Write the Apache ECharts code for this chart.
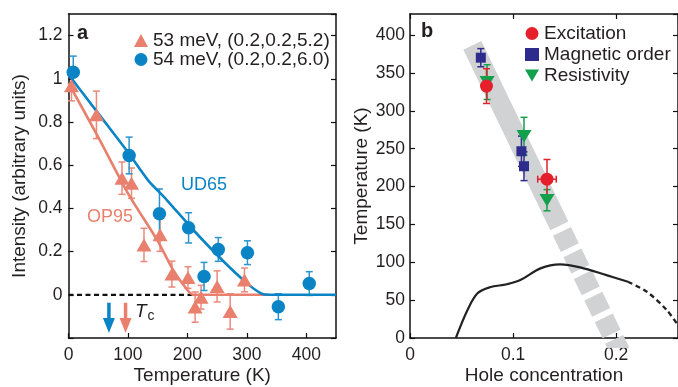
<!DOCTYPE html>
<html>
<head>
<meta charset="utf-8">
<script src="https://cdn.jsdelivr.net/npm/echarts@6/dist/echarts.min.js"></script>
<style>html,body{margin:0;padding:0;background:#fff}#c{width:678px;height:387px}</style>
</head>
<body>
<div id="c"></div>
<script>
// ---------- Panel a data ----------
const blueName = '54 meV, (0.2,0.2,6.0)';
const redName = '53 meV, (0.2,0.2,5.2)';
const blueT = [8, 102, 153, 202, 228, 252, 301, 353, 405];
const blueI = [1.03, 0.645, 0.375, 0.31, 0.085, 0.21, 0.195, -0.055, 0.052];
const blueErr = [0.075, 0.085, 0.115, 0.07, 0.065, 0.055, 0.055, 0.06, 0.055];
const redT = [5, 47, 90, 106, 127, 154, 174, 201, 213, 223, 250, 272, 296];
const redI = [0.968, 0.833, 0.54, 0.517, 0.231, 0.278, 0.096, 0.08, -0.057, -0.011, 0.039, -0.077, 0.069];
const redErr = [0.07, 0.11, 0.075, 0.07, 0.077, 0.077, 0.06, 0.05, 0.07, 0.055, 0.072, 0.082, 0.055];
const blueFitT = [0, 50, 100, 134, 165, 210, 261, 300, 323, 337, 450];
const blueFitI = [1.02, 0.84, 0.66, 0.53, 0.44, 0.30, 0.154, 0.054, 0.008, 0, 0];
const redFitT = [0, 50, 100, 150, 175, 195, 210, 337];
const redFitI = [0.98, 0.73, 0.47, 0.25, 0.12, 0.04, 0, 0];
const zeroLineT = [0, 210];
const tcArrowT = [68, 96];
const tcArrowTop = -0.037, tcArrowHead = -0.108, tcArrowTip = -0.176;
const xTicksA = [0, 450, 100];
const yTicksA = [-0.2, 1.3, 0.2];

// ---------- Panel b data ----------
const excP = [0.0742, 0.1329], excT = [332.8, 209.8], excErr = [23, 26], excPErr = [0, 0.009];
const magP = [0.0687, 0.1081, 0.1106], magT = [370.3, 246.7, 226.9], magErr = [12, 20, 19];
const resP = [0.0748, 0.1106, 0.1329], resT = [338, 266.5, 182], resErr = [23, 25, 14];
const domeP = [0.0445, 0.0558, 0.0655, 0.0774, 0.094, 0.107, 0.1266, 0.1456, 0.165, 0.1906, 0.2115];
const domeT = [0, 37, 59, 67, 71, 76.5, 92, 97.2, 93.3, 83, 74.3];
const domeDashP = [0.2115, 0.2298, 0.249, 0.262];
const domeDashT = [74.3, 61, 37, 13];
const bandSolidP = [0.0605, 0.1449], bandSolidT = [386.5, 148];
const bandDashP = [0.1449, 0.2046], bandDashT = [148, -20];
const xTicksB = [0, 0.26, 0.1];
const yTicksB = [0, 428, 50];

// ---------- style ----------
const FONT = '"Liberation Sans", Arial, Helvetica, sans-serif';
const TXT = '#231f20';
const BLUE = '#0b84c6', BLUE_E = '#2b95d0';
const SALMON = '#e9806e', SALMON_E = '#e98a7b';
const RED = '#e5202a', NAVY = '#2d2b8c', GREEN = '#12a04c';
const BAND = '#d1d2d4';
const TRI_DOWN = 'path://M0,0 L10,0 L5,8.5 Z';

const zip = (a, b) => a.map((v, i) => [v, b[i]]);

function errSeries(xi, yi, xs, ys, es, color, cap, exs) {
  return {
    type: 'custom', xAxisIndex: xi, yAxisIndex: yi, z: 2, silent: true,
    data: xs.map((x, i) => [x, ys[i], es[i], exs ? exs[i] : 0]),
    renderItem: function (params, api) {
      const x = api.value(0), y = api.value(1), e = api.value(2), ex = api.value(3);
      const top = api.coord([x, y + e]), bot = api.coord([x, y - e]);
      const st = { stroke: color, lineWidth: 1.5 };
      const ch = [
        { type: 'line', shape: { x1: top[0], y1: top[1], x2: bot[0], y2: bot[1] }, style: st },
        { type: 'line', shape: { x1: top[0] - cap, y1: top[1], x2: top[0] + cap, y2: top[1] }, style: st },
        { type: 'line', shape: { x1: bot[0] - cap, y1: bot[1], x2: bot[0] + cap, y2: bot[1] }, style: st }
      ];
      if (ex > 0) {
        const l = api.coord([x - ex, y]), r = api.coord([x + ex, y]);
        ch.push({ type: 'line', shape: { x1: l[0], y1: l[1], x2: r[0], y2: r[1] }, style: st });
        ch.push({ type: 'line', shape: { x1: r[0], y1: r[1] - cap, x2: r[0], y2: r[1] + cap }, style: st });
        ch.push({ type: 'line', shape: { x1: l[0], y1: l[1] - cap, x2: l[0], y2: l[1] + cap }, style: st });
      }
      return { type: 'group', children: ch };
    }
  };
}

const axisLine = { show: true, onZero: false, lineStyle: { color: '#111', width: 1.5 } };
const tickIn = { show: true, inside: true, length: 5, lineStyle: { color: '#111', width: 1.2 } };
const lbl = { color: TXT, fontFamily: FONT, fontSize: 17.5 };
const nameStyle = { color: TXT, fontFamily: FONT, fontSize: 19 };

const chart = echarts.init(document.getElementById('c'), null, { renderer: 'canvas' });

const series = [
  // ---- panel a ----
  { type: 'line', xAxisIndex: 0, yAxisIndex: 0, data: zip(zeroLineT, [0, 0]), symbol: 'none', z: 1,
    lineStyle: { color: '#111', width: 2.2, type: [5, 3.5] }, silent: true },
  { type: 'line', xAxisIndex: 0, yAxisIndex: 0, data: zip(redFitT, redFitI), symbol: 'none', smooth: 0.25, z: 3,
    lineStyle: { color: SALMON, width: 2.6 }, silent: true },
  { type: 'line', xAxisIndex: 0, yAxisIndex: 0, data: zip(blueFitT, blueFitI), symbol: 'none', smooth: 0.25, z: 3,
    lineStyle: { color: BLUE, width: 2.6 }, silent: true },
  errSeries(0, 0, redT, redI, redErr, SALMON_E, 3.5),
  errSeries(0, 0, blueT, blueI, blueErr, BLUE_E, 3.5),
  { name: redName, type: 'scatter', xAxisIndex: 0, yAxisIndex: 0, data: zip(redT, redI), z: 4,
    symbol: 'triangle', symbolSize: [15, 13], itemStyle: { color: SALMON, opacity: 1 } },
  { name: blueName, type: 'scatter', xAxisIndex: 0, yAxisIndex: 0, data: zip(blueT, blueI), z: 4,
    symbol: 'circle', symbolSize: 13.5, itemStyle: { color: BLUE, opacity: 1 } },
  // Tc arrows
  { type: 'line', xAxisIndex: 0, yAxisIndex: 0, data: [[tcArrowT[0], tcArrowTop], [tcArrowT[0], tcArrowHead]], symbol: 'none',
    lineStyle: { color: BLUE, width: 3.5 }, silent: true },
  { type: 'line', xAxisIndex: 0, yAxisIndex: 0, data: [[tcArrowT[1], tcArrowTop], [tcArrowT[1], tcArrowHead]], symbol: 'none',
    lineStyle: { color: SALMON, width: 3.5 }, silent: true },
  { type: 'scatter', xAxisIndex: 0, yAxisIndex: 0, data: [[tcArrowT[0], (tcArrowHead + tcArrowTip) / 2]], symbol: TRI_DOWN,
    symbolSize: [12, 15], itemStyle: { color: BLUE, opacity: 1 }, silent: true },
  { type: 'scatter', xAxisIndex: 0, yAxisIndex: 0, data: [[tcArrowT[1], (tcArrowHead + tcArrowTip) / 2]], symbol: TRI_DOWN,
    symbolSize: [12, 15], itemStyle: { color: SALMON, opacity: 1 }, silent: true },

  // ---- panel b ----
  { type: 'line', xAxisIndex: 2, yAxisIndex: 2, data: zip(bandSolidP, bandSolidT), symbol: 'none', z: 1, clip: true,
    lineStyle: { color: BAND, width: 20, cap: 'butt' }, silent: true },
  { type: 'line', xAxisIndex: 2, yAxisIndex: 2, data: zip(bandDashP, bandDashT), symbol: 'none', z: 1, clip: true,
    lineStyle: { color: BAND, width: 20, cap: 'butt', type: [18, 6], dashOffset: 18 }, silent: true },
  { type: 'line', xAxisIndex: 2, yAxisIndex: 2, data: zip(domeP, domeT), symbol: 'none', smooth: 0.35, z: 3, clip: true,
    lineStyle: { color: '#222', width: 2.2 }, silent: true },
  { type: 'line', xAxisIndex: 2, yAxisIndex: 2, data: zip(domeDashP, domeDashT), symbol: 'none', smooth: 0.3, z: 3, clip: true,
    lineStyle: { color: '#222', width: 2.4, type: [5, 3.5] }, silent: true },
  errSeries(2, 2, magP, magT, magErr, NAVY, 3.5),
  errSeries(2, 2, resP, resT, resErr, GREEN, 3.5),
  errSeries(2, 2, excP, excT, excErr, RED, 3.5, excPErr),
  { name: 'Magnetic order', type: 'scatter', xAxisIndex: 2, yAxisIndex: 2, data: zip(magP, magT), z: 4,
    symbol: 'rect', symbolSize: 10, itemStyle: { color: NAVY, opacity: 1 } },
  { name: 'Resistivity', type: 'scatter', xAxisIndex: 2, yAxisIndex: 2, data: zip(resP, resT), z: 4,
    symbol: TRI_DOWN, symbolSize: [15, 12.5], itemStyle: { color: GREEN, opacity: 1 } },
  { name: 'Excitation', type: 'scatter', xAxisIndex: 2, yAxisIndex: 2, data: zip(excP, excT), z: 5,
    symbol: 'circle', symbolSize: 13, itemStyle: { color: RED, opacity: 1 } }
];

const option = {
  animation: false,
  backgroundColor: '#fff',
  grid: [
    { left: 68.5, top: 14, width: 267.5, height: 324, containLabel: false, outerBoundsMode: 'none' },
    { left: 410, top: 14, width: 268, height: 324, containLabel: false, outerBoundsMode: 'none' }
  ],
  xAxis: [
    { gridIndex: 0, type: 'value', position: 'bottom', min: xTicksA[0], max: xTicksA[1], interval: xTicksA[2],
      axisLine, axisTick: tickIn, splitLine: { show: false },
      axisLabel: Object.assign({ margin: 8, showMaxLabel: false }, lbl),
      name: 'Temperature (K)', nameLocation: 'middle', nameGap: 28, nameMoveOverlap: false, nameTextStyle: nameStyle },
    { gridIndex: 0, type: 'value', position: 'top', min: xTicksA[0], max: xTicksA[1], interval: xTicksA[2],
      axisLine, axisTick: { show: false }, axisLabel: { show: false }, splitLine: { show: false } },
    { gridIndex: 1, type: 'value', position: 'bottom', min: xTicksB[0], max: xTicksB[1], interval: xTicksB[2],
      axisLine, axisTick: tickIn, splitLine: { show: false },
      axisLabel: Object.assign({ margin: 8, showMaxLabel: false, formatter: v => String(+v.toFixed(1)) }, lbl),
      name: 'Hole concentration', nameLocation: 'middle', nameGap: 28, nameMoveOverlap: false, nameTextStyle: nameStyle },
    { gridIndex: 1, type: 'value', position: 'top', min: xTicksB[0], max: xTicksB[1], interval: xTicksB[2],
      axisLine, axisTick: tickIn, axisLabel: { show: false }, splitLine: { show: false } }
  ],
  yAxis: [
    { gridIndex: 0, type: 'value', position: 'left', min: yTicksA[0], max: yTicksA[1], interval: yTicksA[2],
      axisLine, axisTick: tickIn, splitLine: { show: false },
      axisLabel: Object.assign({ margin: 6, showMaxLabel: false,
        formatter: v => (v < -0.1 || v > 1.25) ? '' : String(+v.toFixed(1)) }, lbl),
      name: 'Intensity (arbitrary units)', nameLocation: 'middle', nameGap: 39, nameMoveOverlap: false, nameTextStyle: nameStyle },
    { gridIndex: 0, type: 'value', position: 'right', min: yTicksA[0], max: yTicksA[1], interval: yTicksA[2],
      axisLine, axisTick: tickIn, axisLabel: { show: false }, splitLine: { show: false } },
    { gridIndex: 1, type: 'value', position: 'left', min: yTicksB[0], max: yTicksB[1], interval: yTicksB[2],
      axisLine, axisTick: tickIn, splitLine: { show: false },
      axisLabel: Object.assign({ margin: 5, showMaxLabel: false }, lbl),
      name: 'Temperature (K)', nameLocation: 'middle', nameGap: 39, nameMoveOverlap: false, nameTextStyle: nameStyle },
    { gridIndex: 1, type: 'value', position: 'right', min: yTicksB[0], max: yTicksB[1], interval: yTicksB[2],
      axisLine, axisTick: tickIn, axisLabel: { show: false }, splitLine: { show: false } }
  ],
  legend: [
    { orient: 'vertical', left: 134, top: 31, itemWidth: 14, itemHeight: 13, itemGap: 0, padding: 0,
      selectedMode: false, textStyle: { color: TXT, fontFamily: FONT, fontSize: 19 },
      data: [{ name: redName, icon: 'triangle' }, { name: blueName, icon: 'circle' }] },
    { orient: 'vertical', left: 525, top: 24, itemWidth: 14, itemHeight: 13, itemGap: 2, padding: 0,
      selectedMode: false, textStyle: { color: TXT, fontFamily: FONT, fontSize: 19 },
      data: [{ name: 'Excitation', icon: 'circle' }, { name: 'Magnetic order', icon: 'rect' },
             { name: 'Resistivity', icon: TRI_DOWN }] }
  ],
  graphic: [
    { type: 'text', left: 77, top: 23, style: { text: 'a', fill: TXT, font: 'bold 20px ' + FONT } },
    { type: 'text', left: 421, top: 21, style: { text: 'b', fill: TXT, font: 'bold 20px ' + FONT } },
    { type: 'text', left: 181, top: 176, style: { text: 'UD65', fill: BLUE, font: '18px ' + FONT } },
    { type: 'text', left: 87, top: 208, style: { text: 'OP95', fill: SALMON, font: '18px ' + FONT } },
    { type: 'text', left: 135, top: 302, style: { text: '{t|T}{c|c}', rich: {
        t: { fontFamily: FONT, fontStyle: 'italic', fontSize: 19, fill: TXT, color: TXT },
        c: { fontFamily: FONT, fontSize: 14, color: TXT, fill: TXT, padding: [10, 0, 0, 1] } } } }
  ],
  series
};
chart.setOption(option);
</script>
</body>
</html>
